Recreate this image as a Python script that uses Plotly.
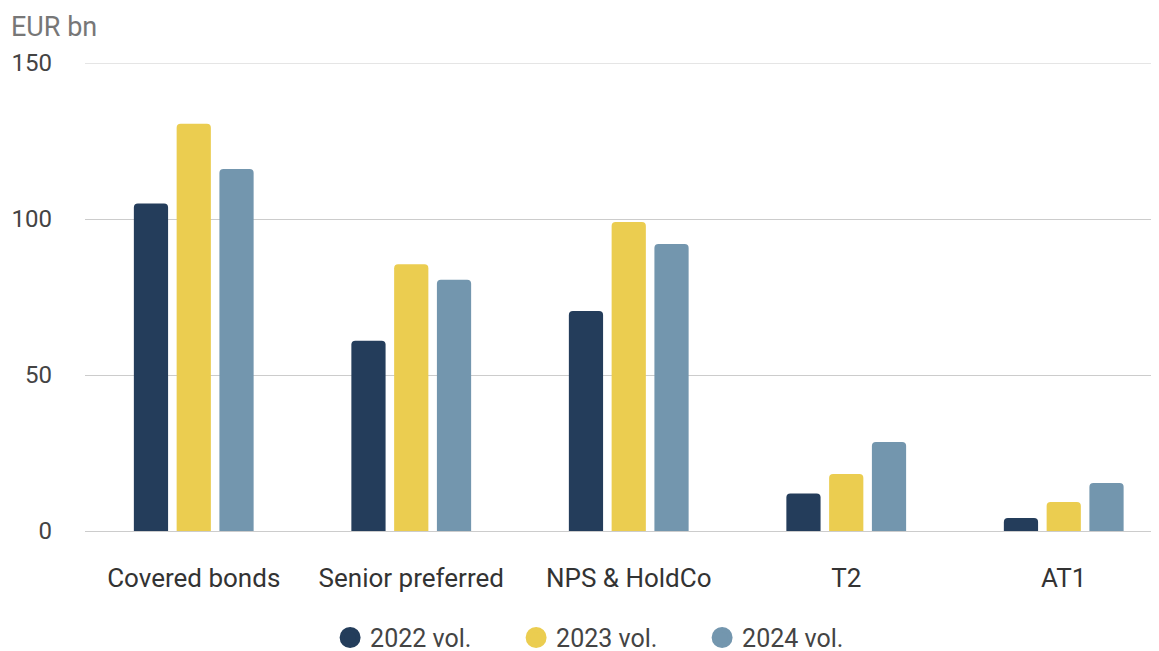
import plotly.graph_objects as go

categories = ["Covered bonds", "Senior preferred", "NPS & HoldCo", "T2", "AT1"]
series_names = ["2022 vol.", "2023 vol.", "2024 vol."]
vol_2022 = [105, 61, 70.5, 12, 4.2]
vol_2023 = [130.5, 85.5, 99, 18.3, 9.3]
vol_2024 = [116, 80.5, 92, 28.5, 15.4]
colors = ["#243d5b", "#ebcd50", "#7396ae"]
y_ticks = [0, 50, 100, 150]

fig = go.Figure()
for name, vals, col in zip(series_names, [vol_2022, vol_2023, vol_2024], colors):
    fig.add_trace(go.Bar(x=categories, y=vals, name=name, marker=dict(color=col, line=dict(width=0)),
                         showlegend=False))
for name, col in zip(series_names, colors):
    fig.add_trace(go.Scatter(x=[None], y=[None], mode="markers", name=name,
                             marker=dict(color=col, size=16, symbol="circle",
                                         line=dict(color=col, width=5))))

# page is drawn with an 8px body margin, margins compensate for it
fig.update_layout(
    width=1159, height=651,
    margin=dict(l=77, r=8, t=55, b=128, autoexpand=False),
    paper_bgcolor="white", plot_bgcolor="white",
    barmode="group", bargap=0.41, bargroupgap=0.2, barcornerradius=4,
    font=dict(family="Roboto, Arial, sans-serif", size=24, color="#444444"),
    showlegend=True,
    legend=dict(orientation="h", x=0.488, xanchor="center", y=-0.228, yanchor="middle",
                font=dict(size=25, color="#444444"), itemwidth=30, tracegroupgap=0,
                entrywidth=141, entrywidthmode="pixels"),
    xaxis=dict(range=[-0.5, 4.438], showgrid=False, showline=False, ticks="", ticklabelstandoff=29,
               tickfont=dict(size=26, color="#333333")),
    yaxis=dict(range=[0, 150], tickvals=y_ticks, showgrid=True, gridcolor="#cccccc", gridwidth=1,
               zeroline=True, zerolinecolor="#cccccc", zerolinewidth=1, showline=False, ticks="",
               ticklabelstandoff=32, tickfont=dict(size=24, color="#444444")),
    shapes=[dict(type="line", xref="paper", yref="y", x0=0, x1=1, y0=150, y1=150,
                 line=dict(color="#cccccc", width=1), layer="below")],
    annotations=[dict(text="EUR bn", xref="paper", yref="paper", x=-76/1074, y=1 + 36/468,
                      xanchor="left", yanchor="middle", showarrow=False,
                      font=dict(size=27, color="#777777"))],
)

fig.write_html("out.html")
